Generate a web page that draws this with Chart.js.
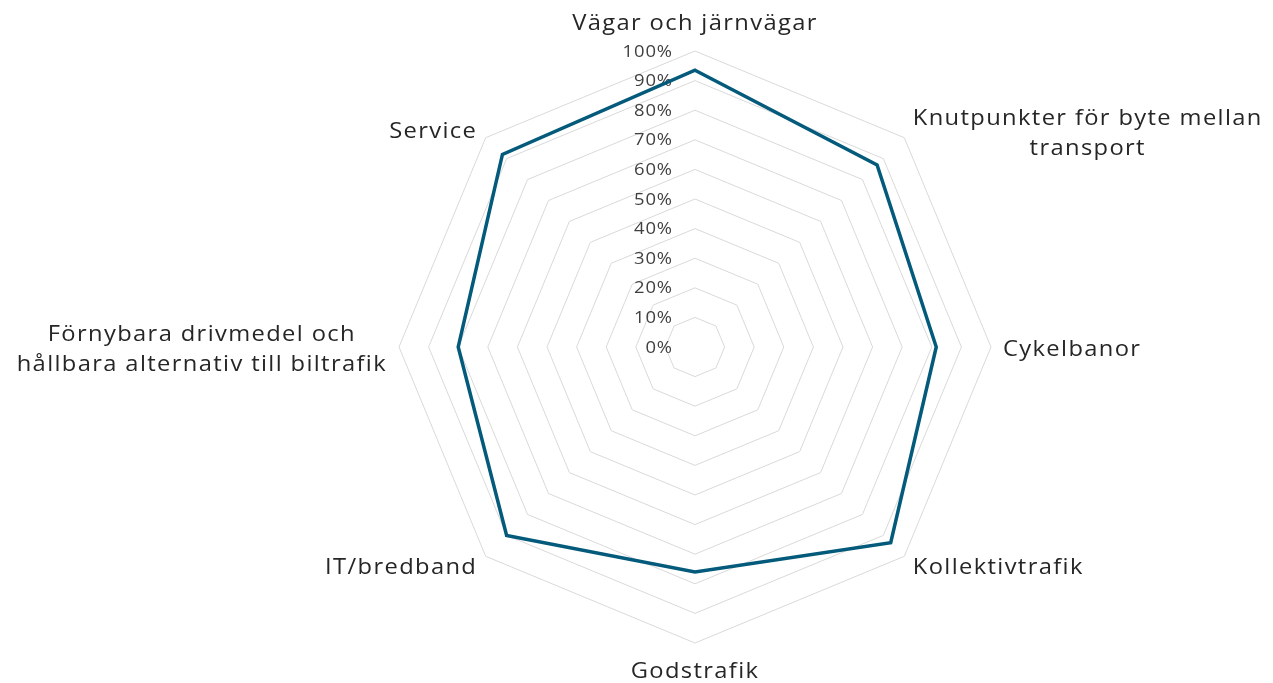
<!DOCTYPE html>
<html>
<head>
<meta charset="utf-8">
<script src="https://cdn.jsdelivr.net/npm/chart.js@4"></script>
<style>
  body { margin: 0; background: #fff; }
  #wrap { width: 1273px; height: 683px; position: relative; }
</style>
</head>
<body>
<div id="wrap"><canvas id="radar"></canvas></div>
<script>
const categories = [
  'Vägar och järnvägar',
  ['Knutpunkter för byte mellan', 'transport'],
  'Cykelbanor',
  'Kollektivtrafik',
  'Godstrafik',
  'IT/bredband',
  ['Förnybara drivmedel och', 'hållbara alternativ till biltrafik'],
  'Service'
];
const values = [93.5, 87, 81.5, 93.5, 76, 90, 80, 92];
const tickLabels = ['0%', '10%', '20%', '30%', '40%', '50%', '60%', '70%', '80%', '90%', '100%'];

const FONT = "'Open Sans', sans-serif";

// draw text stretched horizontally (original font is a wide geometric face)
function wideText(ctx, txt, x, y, align, sx) {
  const w = ctx.measureText(txt).width * sx;
  let left = x;
  if (align === 'center') left = x - w / 2;
  else if (align === 'right') left = x - w;
  ctx.save();
  ctx.translate(left, y);
  ctx.scale(sx, 1);
  ctx.textAlign = 'left';
  ctx.fillText(txt, 0, 0);
  ctx.restore();
}

// tick labels to the left of the vertical axis, like the original
const tickPlugin = {
  id: 'tickText',
  beforeDatasetsDraw(chart) {
    const scale = chart.scales.r;
    const ctx = chart.ctx;
    ctx.save();
    ctx.font = '16px ' + FONT;
    ctx.fillStyle = '#404040';
    ctx.textBaseline = 'middle';
    ctx.letterSpacing = '0.8px';
    scale.ticks.forEach((t, i) => {
      const y = scale.yCenter - scale.getDistanceFromCenterForValue(t.value);
      wideText(ctx, tickLabels[i], scale.xCenter - 22, y + 1, 'right', 1.15);
    });
    ctx.restore();
  }
};

// category labels, lines centred on each other
const labelPlugin = {
  id: 'catText',
  afterDraw(chart) {
    const scale = chart.scales.r;
    const ctx = chart.ctx;
    const sx = 1.13;
    const lh = 30.5;
    ctx.save();
    ctx.font = '21px ' + FONT;
    ctx.fillStyle = '#262626';
    ctx.textBaseline = 'middle';
    ctx.letterSpacing = '1.2px';
    categories.forEach((c, i) => {
      const lines = Array.isArray(c) ? c : [c];
      const p = scale.getPointPosition(i, scale.drawingArea + 12);
      const a = p.angle;
      const cx = Math.cos(a), sy = Math.sin(a);
      let y = p.y + 3;
      if (Math.abs(cx) < 0.1) y += sy < 0 ? -18 : 14;
      else if (Math.abs(sy) > 0.1 && lines.length > 1) y += 2;
      const blockW = Math.max(...lines.map(l => ctx.measureText(l).width)) * sx;
      let xc;
      if (cx > 0.1) xc = p.x + blockW / 2;
      else if (cx < -0.1) xc = p.x - blockW / 2;
      else xc = p.x;
      lines.forEach((l, k) => {
        wideText(ctx, l, xc, y + (k - (lines.length - 1) / 2) * lh, 'center', sx);
      });
    });
    ctx.restore();
  }
};

new Chart(document.getElementById('radar'), {
  type: 'radar',
  data: {
    labels: categories,
    datasets: [{
      data: values,
      borderColor: '#035a7b',
      borderWidth: 3.5,
      pointRadius: 0,
      fill: false,
      tension: 0
    }]
  },
  options: {
    responsive: true,
    maintainAspectRatio: false,
    animation: false,
    layout: { padding: { top: 51, bottom: 40, left: 118, right: 0 } },
    plugins: { legend: { display: false }, tooltip: { enabled: false } },
    scales: {
      r: {
        min: 0,
        max: 100,
        ticks: { display: false, stepSize: 10 },
        grid: { color: '#d9d9d9', lineWidth: 1 },
        angleLines: { display: false },
        pointLabels: { display: false }
      }
    }
  },
  plugins: [tickPlugin, labelPlugin]
});
</script>
</body>
</html>
